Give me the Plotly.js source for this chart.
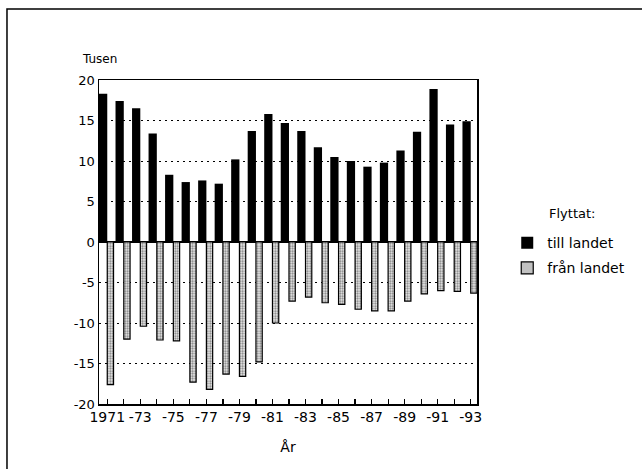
<!DOCTYPE html>
<html>
<head>
<meta charset="utf-8">
<script src="https://cdn.plot.ly/plotly-3.0.1.min.js"></script>
<style>html,body{margin:0;padding:0;background:#fff;}#chart{width:642px;height:469px;}</style>
</head>
<body>
<div id="chart"></div>
<script>
const years = [1971,1972,1973,1974,1975,1976,1977,1978,1979,1980,1981,1982,1983,1984,1985,1986,1987,1988,1989,1990,1991,1992,1993];
const tillLandet = [18.3,17.4,16.5,13.4,8.3,7.4,7.6,7.2,10.2,13.7,15.8,14.7,13.7,11.7,10.5,10.0,9.3,9.8,11.3,13.6,18.9,14.5,14.9];
const franLandet = [-17.6,-12.0,-10.4,-12.1,-12.2,-17.3,-18.2,-16.3,-16.6,-14.8,-10.0,-7.3,-6.8,-7.5,-7.7,-8.3,-8.5,-8.5,-7.3,-6.4,-6.0,-6.1,-6.3];
const xTickText = ["1971","","-73","","-75","","-77","","-79","","-81","","-83","","-85","","-87","","-89","","-91","","-93"];
const yTickVals = [-20,-15,-10,-5,0,5,10,15,20];
const yTickText = ["-20","-15","-10","-5","0","5","10","15","20"];

const fam = '"DejaVu Sans", "Liberation Sans", Arial, sans-serif';
const f = (s) => ({family: fam, size: s, color: '#000'});

const traces = [
  {
    type: 'bar', name: 'till landet', x: years, y: tillLandet,
    offset: -0.5, width: 0.5,
    marker: {color: '#000', line: {color: '#000', width: 0}},
    legendgroup: 'a'
  },
  {
    type: 'bar', name: 'från landet', x: years, y: franLandet,
    offset: 0, width: 0.38,
    marker: {color: '#e0e0e0', line: {color: '#000', width: 1.2},
      pattern: {shape: '.', fgcolor: '#777', bgcolor: '#f2f2f2', size: 2.5, solidity: 0.45}},
    legendgroup: 'b'
  }
];

const layout = {
  width: 642, height: 469,
  margin: {l: 99, r: 163, t: 80, b: 65},
  paper_bgcolor: '#fff', plot_bgcolor: '#fff',
  font: f(13),
  barmode: 'overlay',
  showlegend: true,
  legend: {
    x: 1.08, y: 0.37, xanchor: 'left', yanchor: 'bottom',
    font: f(14),
    traceorder: 'grouped', tracegroupgap: 4,
    bgcolor: 'rgba(0,0,0,0)'
  },
  xaxis: {
    range: [1970.5, 1993.38],
    tickvals: years, ticktext: xTickText,
    ticks: 'inside', ticklen: 5, tickwidth: 1.2, tickcolor: '#000',
    showline: true, linecolor: '#000', linewidth: 1.5, mirror: true,
    showgrid: false, zeroline: false,
    tickfont: f(14),
    title: {text: 'År', font: f(14), standoff: 18}
  },
  yaxis: {
    range: [-20, 20],
    tickvals: yTickVals, ticktext: yTickText,
    ticks: '', showline: true, linecolor: '#000', linewidth: 1.5, mirror: true,
    showgrid: true, gridcolor: '#000', gridwidth: 1, griddash: '1.5px,4.5px',
    zeroline: true, zerolinecolor: '#000', zerolinewidth: 1.5,
    tickfont: f(13)
  },
  annotations: [
    {text: 'Tusen', xref: 'paper', yref: 'paper', x: (80 - 99) / 380, y: (404 - 59) / 324,
     xanchor: 'left', yanchor: 'middle', showarrow: false, font: f(12)},
    {text: 'Flyttat:', xref: 'paper', yref: 'paper', x: (575 - 99) / 380, y: (404 - 213) / 324,
     xanchor: 'center', yanchor: 'middle', showarrow: false, font: f(13)}
  ],
  shapes: [
    {type: 'rect', xref: 'paper', yref: 'paper',
     x0: (6.5 - 99) / 380, x1: (660 - 99) / 380, y0: (404 - 480) / 324, y1: (404 - 9) / 324,
     line: {color: '#000', width: 1.5}, fillcolor: 'rgba(0,0,0,0)', layer: 'below'}
  ]
};

Plotly.newPlot('chart', traces, layout, {displayModeBar: false, staticPlot: true});
</script>
</body>
</html>
